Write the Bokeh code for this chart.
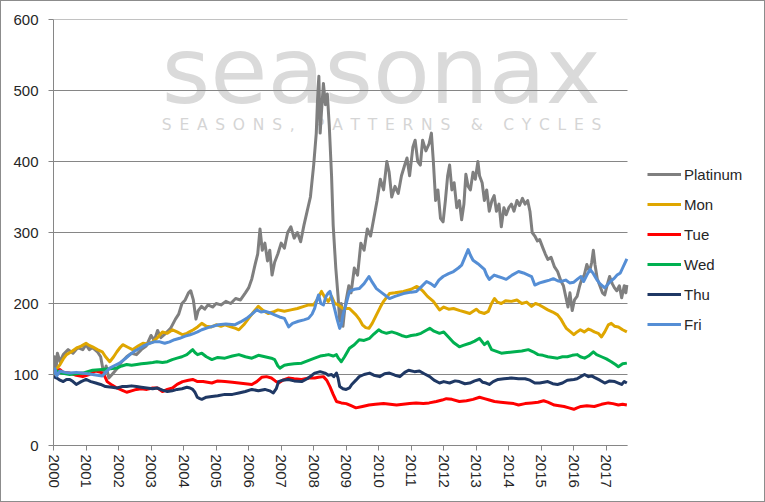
from bokeh.plotting import figure
from bokeh.models import FixedTicker, Legend, LegendItem, Label, Range1d
from bokeh.embed import file_html
from bokeh.resources import INLINE

# ---------------- data ----------------
series_names = ["Platinum", "Mon", "Tue", "Wed", "Thu", "Fri"]
series_colors = ["#7F7F7F", "#DFA600", "#FF0000", "#00B050", "#1F3864", "#558ED5"]
year_ticks = list(range(2000, 2018))
value_ticks = [0, 100, 200, 300, 400, 500, 600]
x_start, x_last = 2000.0, 2017.65   # data span on the axis

plat_t = [2000.00, 2000.04, 2000.08, 2000.12, 2000.2, 2000.3, 2000.45, 2000.6, 2000.75, 2000.9,
          2001.0, 2001.1, 2001.2, 2001.35, 2001.45, 2001.55, 2001.62, 2001.7, 2001.8, 2001.95,
          2002.1, 2002.25, 2002.4, 2002.55, 2002.7, 2002.85, 2003.0, 2003.1, 2003.2, 2003.3,
          2003.45, 2003.6, 2003.75, 2003.85, 2003.95, 2004.05, 2004.15, 2004.22, 2004.3, 2004.38,
          2004.45, 2004.55, 2004.65, 2004.75, 2004.9, 2005.0, 2005.15, 2005.3, 2005.45, 2005.6,
          2005.75, 2005.9, 2006.0, 2006.1, 2006.2, 2006.28, 2006.35, 2006.42, 2006.5, 2006.58,
          2006.65, 2006.72, 2006.8, 2006.9, 2007.0, 2007.1, 2007.2, 2007.3, 2007.4, 2007.5,
          2007.6, 2007.7, 2007.8, 2007.9, 2008.0, 2008.08, 2008.13, 2008.16, 2008.2, 2008.24,
          2008.3, 2008.36, 2008.42, 2008.48, 2008.55, 2008.6, 2008.68, 2008.75, 2008.8, 2008.85,
          2008.9, 2008.95, 2009.0, 2009.08, 2009.15, 2009.25, 2009.35, 2009.45, 2009.55, 2009.65,
          2009.75, 2009.85, 2009.95, 2010.05, 2010.15, 2010.25, 2010.32, 2010.4, 2010.5, 2010.6,
          2010.7, 2010.8, 2010.87, 2010.95, 2011.05, 2011.12, 2011.2, 2011.28, 2011.35, 2011.45,
          2011.55, 2011.62, 2011.68, 2011.75, 2011.82, 2011.9, 2011.98, 2012.05, 2012.12, 2012.18,
          2012.25, 2012.32, 2012.4, 2012.48, 2012.55, 2012.62, 2012.68, 2012.75, 2012.82, 2012.9,
          2012.97, 2013.05, 2013.1, 2013.18, 2013.25, 2013.32, 2013.4, 2013.48, 2013.55, 2013.62,
          2013.7, 2013.77, 2013.85, 2013.92, 2014.0, 2014.08, 2014.16, 2014.25, 2014.33, 2014.42,
          2014.5, 2014.58, 2014.65, 2014.72, 2014.8, 2014.88, 2014.95, 2015.05, 2015.12, 2015.2,
          2015.3, 2015.4, 2015.5, 2015.6, 2015.68, 2015.75, 2015.82, 2015.88, 2015.95, 2016.02,
          2016.1, 2016.18, 2016.25, 2016.32, 2016.4, 2016.48, 2016.55, 2016.6, 2016.65, 2016.72,
          2016.8, 2016.88, 2016.95, 2017.02, 2017.1, 2017.18, 2017.25, 2017.32, 2017.4, 2017.47,
          2017.55, 2017.6, 2017.63]
plat_v = [100, 125, 108, 130, 118, 128, 135, 130, 138, 135,
          142, 135, 138, 132, 125, 100, 112, 95, 100, 108,
          118, 125, 130, 128, 135, 140, 155, 148, 162, 152,
          158, 165, 178, 185, 200, 205, 215, 218, 205, 178,
          190, 196, 192, 198, 195, 200, 198, 203, 200, 207,
          205, 215, 222, 235, 255, 270, 305, 275, 285, 260,
          275, 240, 258, 270, 285, 278, 300, 308, 292, 300,
          287, 310, 330, 350, 395, 440, 500, 520, 440, 470,
          510, 480, 495, 450, 380, 310, 250, 210, 175, 200,
          168, 190, 205, 225, 215, 250, 240, 285, 275, 305,
          295, 320, 345, 375, 360, 400, 385, 350, 365, 355,
          380, 395, 405, 380, 420, 430, 400, 395, 430, 415,
          425, 440, 400, 345, 360, 320, 315, 345, 380, 395,
          360, 370, 335, 345, 318, 340, 382, 365, 360, 385,
          375, 400, 380, 370, 345, 360, 330, 345, 352, 330,
          340, 308, 335, 325, 335, 340, 330, 345, 338, 348,
          340, 345, 330, 300, 295, 288, 290, 278, 270, 262,
          265, 252, 245, 232, 225, 210, 195, 215, 190, 205,
          210, 225, 235, 240, 255, 245, 258, 275, 255, 235,
          225, 215, 212, 225, 238, 228, 222, 218, 225, 208,
          225, 215, 226]

mon_t = [2000.0, 2000.1, 2000.2, 2000.3, 2000.4, 2000.55, 2000.7, 2000.85, 2001.0, 2001.1,
         2001.2, 2001.35, 2001.5, 2001.6, 2001.73, 2001.85, 2001.95, 2002.05, 2002.13, 2002.3,
         2002.43, 2002.6, 2002.75, 2002.9, 2003.05, 2003.2, 2003.35, 2003.5, 2003.66, 2003.8,
         2003.97, 2004.1, 2004.18, 2004.3, 2004.43, 2004.56, 2004.7, 2004.86, 2005.0, 2005.15,
         2005.27, 2005.45, 2005.6, 2005.7, 2005.85, 2006.0, 2006.15, 2006.3, 2006.45, 2006.6,
         2006.75, 2006.9, 2007.1, 2007.3, 2007.5, 2007.7, 2007.85, 2008.0, 2008.1, 2008.24,
         2008.35, 2008.45, 2008.55, 2008.65, 2008.76, 2008.9, 2009.1, 2009.3, 2009.4, 2009.5,
         2009.6, 2009.7, 2009.8, 2009.93, 2010.05, 2010.15, 2010.33, 2010.5, 2010.76, 2011.0,
         2011.16, 2011.25, 2011.37, 2011.5, 2011.68, 2011.87, 2012.0, 2012.15, 2012.3, 2012.5,
         2012.65, 2012.8, 2013.0, 2013.1, 2013.25, 2013.37, 2013.47, 2013.56, 2013.65, 2013.77,
         2013.9, 2014.08, 2014.25, 2014.4, 2014.55, 2014.7, 2014.82, 2014.94, 2015.05, 2015.2,
         2015.35, 2015.5, 2015.6, 2015.7, 2015.77, 2015.9, 2016.0, 2016.1, 2016.2, 2016.32,
         2016.45, 2016.55, 2016.63, 2016.75, 2016.85, 2016.95, 2017.06, 2017.15, 2017.25, 2017.37,
         2017.5, 2017.63]
mon_v = [100, 108, 114, 122, 128, 132, 137, 140, 144, 141,
         139, 135, 132, 125, 118, 125, 132, 138, 142, 138,
         135, 140, 144, 143, 146, 152, 160, 158, 163, 160,
         156, 158, 160, 163, 167, 172, 168, 167, 170, 168,
         170, 167, 165, 163, 170, 179, 188, 196, 190, 186,
         188, 191, 189, 191, 193, 196, 198, 198, 205, 217,
         208, 203, 210, 200, 198, 193, 193, 184, 178, 170,
         166, 165, 172, 184, 195, 203, 214, 215, 217, 220,
         224, 222, 217, 210, 203, 191, 195, 192, 193, 190,
         188, 186, 192, 188, 186, 189, 200, 207, 202, 200,
         204, 203, 205, 200, 202, 196, 200, 198, 195, 191,
         188, 184, 178, 170, 165, 160, 156, 160, 163, 160,
         164, 162, 160, 158, 153, 160, 170, 172, 168, 167,
         163, 160]

tue_t = [2000.0, 2000.1, 2000.2, 2000.3, 2000.5, 2000.7, 2000.9, 2001.1, 2001.3, 2001.45,
         2001.55, 2001.65, 2001.8, 2001.95, 2002.1, 2002.25, 2002.4, 2002.55, 2002.7, 2002.87,
         2003.05, 2003.2, 2003.35, 2003.5, 2003.66, 2003.8, 2003.97, 2004.15, 2004.28, 2004.43,
         2004.6, 2004.87, 2005.05, 2005.27, 2005.5, 2005.7, 2005.9, 2006.1, 2006.25, 2006.4,
         2006.55, 2006.7, 2006.82, 2006.92, 2007.05, 2007.22, 2007.4, 2007.63, 2007.85, 2008.03,
         2008.15, 2008.3, 2008.4, 2008.5, 2008.6, 2008.7, 2008.85, 2009.0, 2009.15, 2009.3,
         2009.5, 2009.7, 2009.9, 2010.15, 2010.35, 2010.55, 2010.75, 2010.95, 2011.15, 2011.37,
         2011.55, 2011.77, 2011.95, 2012.08, 2012.25, 2012.48, 2012.7, 2012.9, 2013.1, 2013.25,
         2013.4, 2013.56, 2013.75, 2013.98, 2014.15, 2014.3, 2014.5, 2014.7, 2014.9, 2015.07,
         2015.2, 2015.4, 2015.55, 2015.7, 2015.85, 2016.0, 2016.1, 2016.22, 2016.4, 2016.63,
         2016.85, 2017.06, 2017.2, 2017.37, 2017.5, 2017.63]
tue_v = [100, 104, 107, 103, 102, 99, 97, 100, 105, 103,
         100, 90, 85, 81, 78, 75, 77, 79, 80, 79,
         81, 81, 76, 79, 81, 86, 90, 92, 93, 90,
         90, 88, 91, 90, 89, 88, 87, 86, 90, 96,
         97, 95, 91, 88, 92, 95, 94, 93, 95, 95,
         96, 97, 92, 83, 72, 62, 60, 59, 56, 53,
         55, 57, 58, 59, 58, 57, 58, 59, 60, 59,
         60, 62, 64, 66, 65, 62, 63, 65, 68, 66,
         64, 62, 61, 60, 59, 57, 59, 60, 61, 63,
         61, 57, 56, 55, 53, 51, 53, 55, 56, 55,
         58, 60, 59, 57, 58, 57]

wed_t = [2000.0, 2000.1, 2000.25, 2000.5, 2000.7, 2000.9, 2001.2, 2001.5, 2001.75, 2001.95,
         2002.1, 2002.25, 2002.4, 2002.56, 2002.7, 2002.87, 2003.05, 2003.18, 2003.35, 2003.5,
         2003.65, 2003.8, 2003.95, 2004.1, 2004.2, 2004.28, 2004.35, 2004.43, 2004.56, 2004.7,
         2004.87, 2005.05, 2005.27, 2005.5, 2005.7, 2005.9, 2006.1, 2006.3, 2006.5, 2006.7,
         2006.8, 2006.9, 2006.96, 2007.1, 2007.22, 2007.4, 2007.63, 2007.85, 2008.03, 2008.2,
         2008.35, 2008.46, 2008.6, 2008.7, 2008.76, 2008.85, 2008.95, 2009.1, 2009.25, 2009.4,
         2009.55, 2009.72, 2009.85, 2010.0, 2010.1, 2010.24, 2010.4, 2010.55, 2010.7, 2010.85,
         2011.0, 2011.16, 2011.3, 2011.45, 2011.57, 2011.7, 2011.87, 2012.0, 2012.18, 2012.3,
         2012.48, 2012.6, 2012.8, 2012.95, 2013.1, 2013.25, 2013.35, 2013.47, 2013.6, 2013.77,
         2013.95, 2014.18, 2014.4, 2014.6, 2014.75, 2014.9, 2015.05, 2015.2, 2015.35, 2015.5,
         2015.65, 2015.8, 2015.95, 2016.1, 2016.2, 2016.33, 2016.45, 2016.6, 2016.7, 2016.85,
         2017.0, 2017.15, 2017.28, 2017.37, 2017.5, 2017.63]
wed_v = [100, 105, 102, 100, 101, 102, 106, 107, 108, 109,
         112, 114, 113, 114, 115, 116, 117, 118, 117, 118,
         121, 123, 125, 128, 132, 135, 131, 128, 130, 125,
         121, 124, 123, 126, 128, 125, 123, 127, 125, 123,
         121, 112, 109, 113, 114, 115, 116, 120, 123, 126,
         127, 128, 126, 128, 123, 118, 125, 137, 142, 149,
         148, 151, 157, 163, 160, 158, 160, 158, 155, 153,
         155, 156, 158, 162, 165, 161, 158, 160, 151, 145,
         139, 141, 144, 147, 151, 142, 146, 135, 133, 130,
         131, 132, 133, 135, 132, 128, 127, 125, 124, 123,
         125, 125, 127, 128, 125, 123, 126, 132, 128, 125,
         122, 118, 114, 111, 115, 116]

thu_t = [2000.0, 2000.1, 2000.2, 2000.3, 2000.4, 2000.5, 2000.6, 2000.7, 2000.85, 2001.0,
         2001.15, 2001.3, 2001.45, 2001.6, 2001.8, 2001.95, 2002.1, 2002.25, 2002.4, 2002.55,
         2002.7, 2002.87, 2003.05, 2003.18, 2003.35, 2003.5, 2003.65, 2003.8, 2003.95, 2004.1,
         2004.2, 2004.28, 2004.35, 2004.42, 2004.5, 2004.56, 2004.7, 2004.87, 2005.05, 2005.27,
         2005.5, 2005.7, 2005.9, 2006.1, 2006.3, 2006.5, 2006.65, 2006.76, 2006.85, 2006.92,
         2007.05, 2007.22, 2007.4, 2007.63, 2007.8, 2007.95, 2008.03, 2008.2, 2008.35, 2008.45,
         2008.55, 2008.62, 2008.7, 2008.75, 2008.8, 2008.9, 2009.0, 2009.1, 2009.17, 2009.3,
         2009.4, 2009.55, 2009.72, 2009.85, 2010.03, 2010.18, 2010.33, 2010.5, 2010.65, 2010.8,
         2010.92, 2011.1, 2011.25, 2011.4, 2011.57, 2011.7, 2011.87, 2012.0, 2012.18, 2012.35,
         2012.48, 2012.65, 2012.8, 2012.95, 2013.1, 2013.2, 2013.3, 2013.4, 2013.52, 2013.67,
         2013.85, 2014.08, 2014.3, 2014.5, 2014.65, 2014.8, 2014.95, 2015.2, 2015.35, 2015.5,
         2015.65, 2015.8, 2016.0, 2016.1, 2016.25, 2016.33, 2016.45, 2016.55, 2016.63, 2016.8,
         2016.95, 2017.1, 2017.26, 2017.37, 2017.47, 2017.55, 2017.63]
thu_v = [97, 95, 92, 90, 93, 93, 90, 86, 90, 93,
         90, 88, 86, 83, 82, 81, 83, 83, 84, 83,
         82, 81, 80, 81, 78, 76, 77, 79, 80, 82,
         81, 79, 75, 68, 66, 65, 68, 69, 70, 72,
         72, 74, 76, 79, 77, 79, 77, 74, 80, 90,
         92, 93, 91, 90, 94, 99, 102, 104, 102, 99,
         100, 97, 102, 95, 83, 80, 79, 81, 86, 92,
         97, 100, 102, 99, 97, 101, 102, 99, 97, 103,
         106, 104, 105, 101, 97, 92, 88, 90, 88, 91,
         90, 87, 88, 91, 93, 89, 88, 86, 90, 93,
         94, 95, 94, 94, 92, 88, 88, 90, 87, 86,
         88, 92, 93, 94, 98, 100, 97, 98, 96, 92,
         88, 91, 90, 88, 86, 90, 88]

fri_t = [2000.0, 2000.05, 2000.1, 2000.2, 2000.35, 2000.5, 2000.7, 2000.9, 2001.05, 2001.2,
         2001.35, 2001.5, 2001.6, 2001.73, 2001.85, 2002.03, 2002.2, 2002.35, 2002.5, 2002.65,
         2002.8, 2002.96, 2003.1, 2003.27, 2003.42, 2003.57, 2003.72, 2003.88, 2004.05, 2004.2,
         2004.32, 2004.43, 2004.56, 2004.75, 2005.07, 2005.3, 2005.57, 2005.75, 2005.94, 2006.1,
         2006.25, 2006.38, 2006.5, 2006.65, 2006.8, 2006.95, 2007.1, 2007.23, 2007.35, 2007.53,
         2007.7, 2007.84, 2007.95, 2008.03, 2008.1, 2008.15, 2008.22, 2008.3, 2008.38, 2008.45,
         2008.5, 2008.57, 2008.64, 2008.72, 2008.8, 2008.85, 2008.9, 2009.0, 2009.1, 2009.25,
         2009.4, 2009.55, 2009.7, 2009.8, 2009.93, 2010.1, 2010.33, 2010.5, 2010.76, 2011.0,
         2011.16, 2011.3, 2011.47, 2011.6, 2011.72, 2011.85, 2011.98, 2012.15, 2012.3, 2012.45,
         2012.55, 2012.65, 2012.75, 2012.82, 2012.9, 2013.05, 2013.25, 2013.32, 2013.4, 2013.55,
         2013.67, 2013.8, 2013.92, 2014.1, 2014.3, 2014.45, 2014.6, 2014.7, 2014.8, 2014.95,
         2015.1, 2015.25, 2015.37, 2015.5, 2015.6, 2015.75, 2015.87, 2016.0, 2016.13, 2016.22,
         2016.3, 2016.4, 2016.5, 2016.6, 2016.7, 2016.8, 2016.95, 2017.1, 2017.23, 2017.33,
         2017.43, 2017.5, 2017.57, 2017.63]
fri_v = [100, 108, 98, 105, 103, 102, 103, 102, 101, 100,
         99, 98, 103, 109, 112, 116, 122, 128, 133, 137,
         141, 144, 146, 146, 144, 146, 149, 151, 154, 156,
         158, 160, 163, 166, 170, 171, 170, 174, 179, 185,
         191, 188, 189, 187, 184, 181, 179, 167, 172, 175,
         177, 179, 185, 193, 205, 212, 200, 198, 210, 215,
         217, 205, 193, 178, 165, 170, 184, 200, 217, 220,
         221, 228, 238, 230, 221, 215, 207, 210, 214, 216,
         217, 223, 231, 228, 224, 233, 238, 242, 245, 250,
         254, 265, 276, 268, 261, 256, 248, 240, 234, 240,
         238, 236, 234, 240, 245, 243, 240, 238, 226, 229,
         231, 233, 235, 232, 231, 233, 229, 230, 235, 238,
         231, 240, 248, 242, 234, 228, 222, 230, 235, 240,
         243, 250, 257, 263]

series_t = [plat_t, mon_t, tue_t, wed_t, thu_t, fri_t]
series_v = [plat_v, mon_v, tue_v, wed_v, thu_v, fri_v]

# ---------------- figure ----------------
FONT = "Liberation Sans"
GRID = "#868686"
TXT = "#262626"

W, H = 765, 502
LEFT, RIGHT, TOP, BOTTOM = 52, 5, 18, 58
data_px = 574.0                               # pixel width of the data span
px_per_year = data_px / (x_last - x_start)
x_end = x_start + (W - LEFT - RIGHT) / px_per_year   # room on the right for the legend

p = figure(width=W, height=H, output_backend="svg", toolbar_location=None,
           x_range=Range1d(x_start, x_end), y_range=Range1d(0, 600),
           min_border_left=LEFT, min_border_right=RIGHT, min_border_top=TOP, min_border_bottom=BOTTOM)
p.outline_line_color = None
p.background_fill_color = "white"
p.border_fill_color = "white"
p.styles = {"border": "1px solid #8c8c8c", "box-sizing": "border-box"}

p.xgrid.grid_line_color = None
p.ygrid.grid_line_color = None
# horizontal gridlines only across the data span
p.segment(x0=[x_start] * len(value_ticks), y0=value_ticks,
          x1=[x_last] * len(value_ticks), y1=value_ticks,
          line_color=GRID, line_width=1, level="underlay")

p.yaxis.ticker = FixedTicker(ticks=value_ticks)
p.xaxis.ticker = FixedTicker(ticks=year_ticks)
p.xaxis.bounds = (x_start, x_last)
p.xaxis.major_label_overrides = {y: str(y) for y in year_ticks}
p.xaxis.major_label_orientation = "vertical"

for ax in (p.xaxis[0], p.yaxis[0]):
    ax.axis_line_color = GRID
    ax.major_tick_line_color = GRID
    ax.minor_tick_line_color = None
    ax.major_tick_in = 0
    ax.major_tick_out = 5
    ax.major_label_text_font = FONT
    ax.major_label_text_font_size = "15px"
    ax.major_label_text_color = TXT
p.yaxis.major_label_standoff = 10
p.xaxis.major_label_standoff = 4

# watermark
p.add_layout(Label(x=2003.33, y=528, text="seasonax", text_font="DejaVu Sans",
                   text_font_size="93px", text_color="#DADADA", text_baseline="alphabetic",
                   level="image"))
tag = "\u2002".join(list("SEASONS, PATTERNS & CYCLES"))
p.add_layout(Label(x=2003.33, y=451, text=tag, text_font="DejaVu Sans",
                   text_font_size="15.5px", text_color="#D5D5D5", text_baseline="alphabetic",
                   level="image"))

items = []
for name, col, t, v in zip(series_names, series_colors, series_t, series_v):
    r = p.line(t, v, line_color=col, line_width=3, line_join="round")
    items.append(LegendItem(label=name, renderers=[r]))

legend = Legend(items=items, location=(594, 111), orientation="vertical",
                border_line_color=None, background_fill_alpha=0,
                label_text_font=FONT, label_text_font_size="15px", label_text_color=TXT,
                glyph_width=34, glyph_height=20, label_height=20, spacing=10,
                padding=5, margin=0, label_standoff=3)
p.add_layout(legend, "center")

open("out.html", "w").write(file_html(p, INLINE))
